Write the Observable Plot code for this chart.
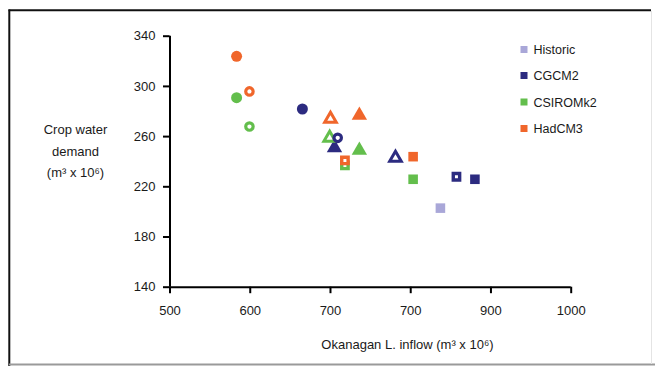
<!DOCTYPE html>
<html>
<head>
<meta charset="utf-8">
<script src="https://cdn.jsdelivr.net/npm/d3@7"></script>
<script src="https://cdn.jsdelivr.net/npm/@observablehq/plot@0.6"></script>
<style>
  html, body { margin: 0; padding: 0; background: #fff; }
  #chart { position: relative; width: 655px; height: 366px; }
  svg { display: block; }
</style>
</head>
<body>
<div id="chart"></div>
<script>
// ---- data ----
const models = ["Historic", "CGCM2", "CSIROMk2", "HadCM3"];
const modelColors = ["#a9a7d8", "#2c2b80", "#63be4c", "#f0662b"];

const xTicks = [500, 600, 700, 800, 900, 1000];
const xTickLabels = ["500", "600", "700", "700", "900", "1000"]; // as printed in the original
const yTicks = [140, 180, 220, 260, 300, 340];

// points (drawing order)
const pointModel  = ["CSIROMk2","CSIROMk2","HadCM3","HadCM3","CGCM2","CSIROMk2","CGCM2","CGCM2","HadCM3","HadCM3","CSIROMk2","CSIROMk2","HadCM3","CGCM2","HadCM3","CSIROMk2","CGCM2","CGCM2","Historic"];
const pointShape  = ["circle","circle","circle","circle","circle","triangle","circle","triangle","triangle","triangle","triangle","square","square","triangle","square","square","square","square","square"];
const pointFilled = [true,false,true,false,true,false,false,true,false,true,true,false,false,false,true,true,false,true,true];
const inflow      = [583,599,583,599,665,699,709,705,700,736,736,718,718,781,803,803,857,880,837];
const demand      = [291,268,324,296,282,259,259,251,274,277,249,237,241,243,244,226,228,226,203];

const xLabel = "Okanagan L. inflow (m³ x 10⁶)";
const yLabelLines = ["Crop water", "demand", "(m³ x 10⁶)"];

// ---- build ----
const pts = inflow.map((x, i) => ({
  x, y: demand[i], model: pointModel[i], shape: pointShape[i], filled: pointFilled[i]
}));
const colorOf = m => modelColors[models.indexOf(m)];

const font = "'Liberation Sans', Arial, Helvetica, sans-serif";

const rFilled = d => d.shape === "square" ? 5.4 : (d.shape === "triangle" ? 5.7 : 5.5);
const rOpen = d => d.shape === "square" ? 3.6 : (d.shape === "triangle" ? 4.3 : 3.7);
const swOpen = d => d.shape === "square" ? 3.4 : (d.shape === "triangle" ? 3.0 : 3.2);

const plot = Plot.plot({
  width: 655,
  height: 366,
  marginLeft: 169.5,
  marginRight: 84.3,
  marginTop: 35.7,
  marginBottom: 79.3,
  style: { fontFamily: font, fontSize: "13px", color: "#1a1a1a", background: "#fff" },
  x: { domain: [xTicks[0], xTicks[xTicks.length - 1]] },
  y: { domain: [yTicks[0], yTicks[yTicks.length - 1]] },
  r: { type: "identity" },
  symbol: { domain: ["circle", "triangle", "square"], range: ["circle", "triangle", "square"] },
  marks: [
    Plot.axisX({ ticks: xTicks, tickSize: 6.5, tickPadding: 12, strokeWidth: 2, stroke: "#000", fill: "#1a1a1a",
      tickFormat: d => xTickLabels[xTicks.indexOf(d)], label: null }),
    Plot.axisY({ ticks: yTicks, tickSize: 6.5, tickPadding: 8, strokeWidth: 2, stroke: "#000", fill: "#1a1a1a",
      label: null }),
    Plot.ruleX([xTicks[0]], { y1: yTicks[0], y2: yTicks[yTicks.length - 1], stroke: "#000", strokeWidth: 2 }),
    Plot.ruleY([yTicks[0]], { x1: xTicks[0], x2: xTicks[xTicks.length - 1], stroke: "#000", strokeWidth: 2 }),
    Plot.dot(pts, {
      x: "x", y: "y", symbol: "shape",
      r: d => d.filled ? rFilled(d) : rOpen(d),
      fill: d => d.filled ? colorOf(d.model) : "#fff",
      stroke: d => colorOf(d.model),
      strokeWidth: d => d.filled ? 0 : swOpen(d)
    })
  ]
});

document.getElementById("chart").appendChild(plot);

// ---- annotations (frame, labels, legend) ----
const svg = d3.select(plot);
// outer frame as in the figure
svg.append("line").attr("x1", 8.5).attr("x2", 651).attr("y1", 10.3).attr("y2", 10.3).attr("stroke", "#111").attr("stroke-width", 2);
svg.append("line").attr("x1", 9.3).attr("x2", 9.3).attr("y1", 9.5).attr("y2", 366).attr("stroke", "#111").attr("stroke-width", 2);
svg.append("line").attr("x1", 9).attr("x2", 655).attr("y1", 364.5).attr("y2", 364.5).attr("stroke", "#9a9a9a").attr("stroke-width", 2);
svg.append("line").attr("x1", 651.5).attr("x2", 651.5).attr("y1", 11).attr("y2", 364).attr("stroke", "#e4e4e4").attr("stroke-width", 1);

svg.append("text").attr("x", 407.5).attr("y", 348.5).attr("text-anchor", "middle")
  .attr("font-family", font).attr("font-size", 13).attr("fill", "#1a1a1a").text(xLabel);

const yl = svg.append("text").attr("text-anchor", "middle").attr("font-family", font).attr("font-size", 13).attr("fill", "#1a1a1a");
const ylBase = [134, 155.5, 177];
yLabelLines.forEach((t, i) => yl.append("tspan").attr("x", 75.5).attr("y", ylBase[i]).text(t));

const legendY = [49.5, 75.5, 102, 128.5];
const lg = svg.append("g").attr("text-anchor", "start");
models.forEach((m, i) => {
  lg.append("rect").attr("x", 520.5).attr("y", legendY[i] - 3.5).attr("width", 7).attr("height", 7).attr("fill", modelColors[i]);
  lg.append("text").attr("x", 533.5).attr("y", legendY[i] + 4.5).attr("text-anchor", "start")
    .attr("font-family", font).attr("font-size", 12.5).attr("fill", "#1a1a1a").text(m);
});
</script>
</body>
</html>
